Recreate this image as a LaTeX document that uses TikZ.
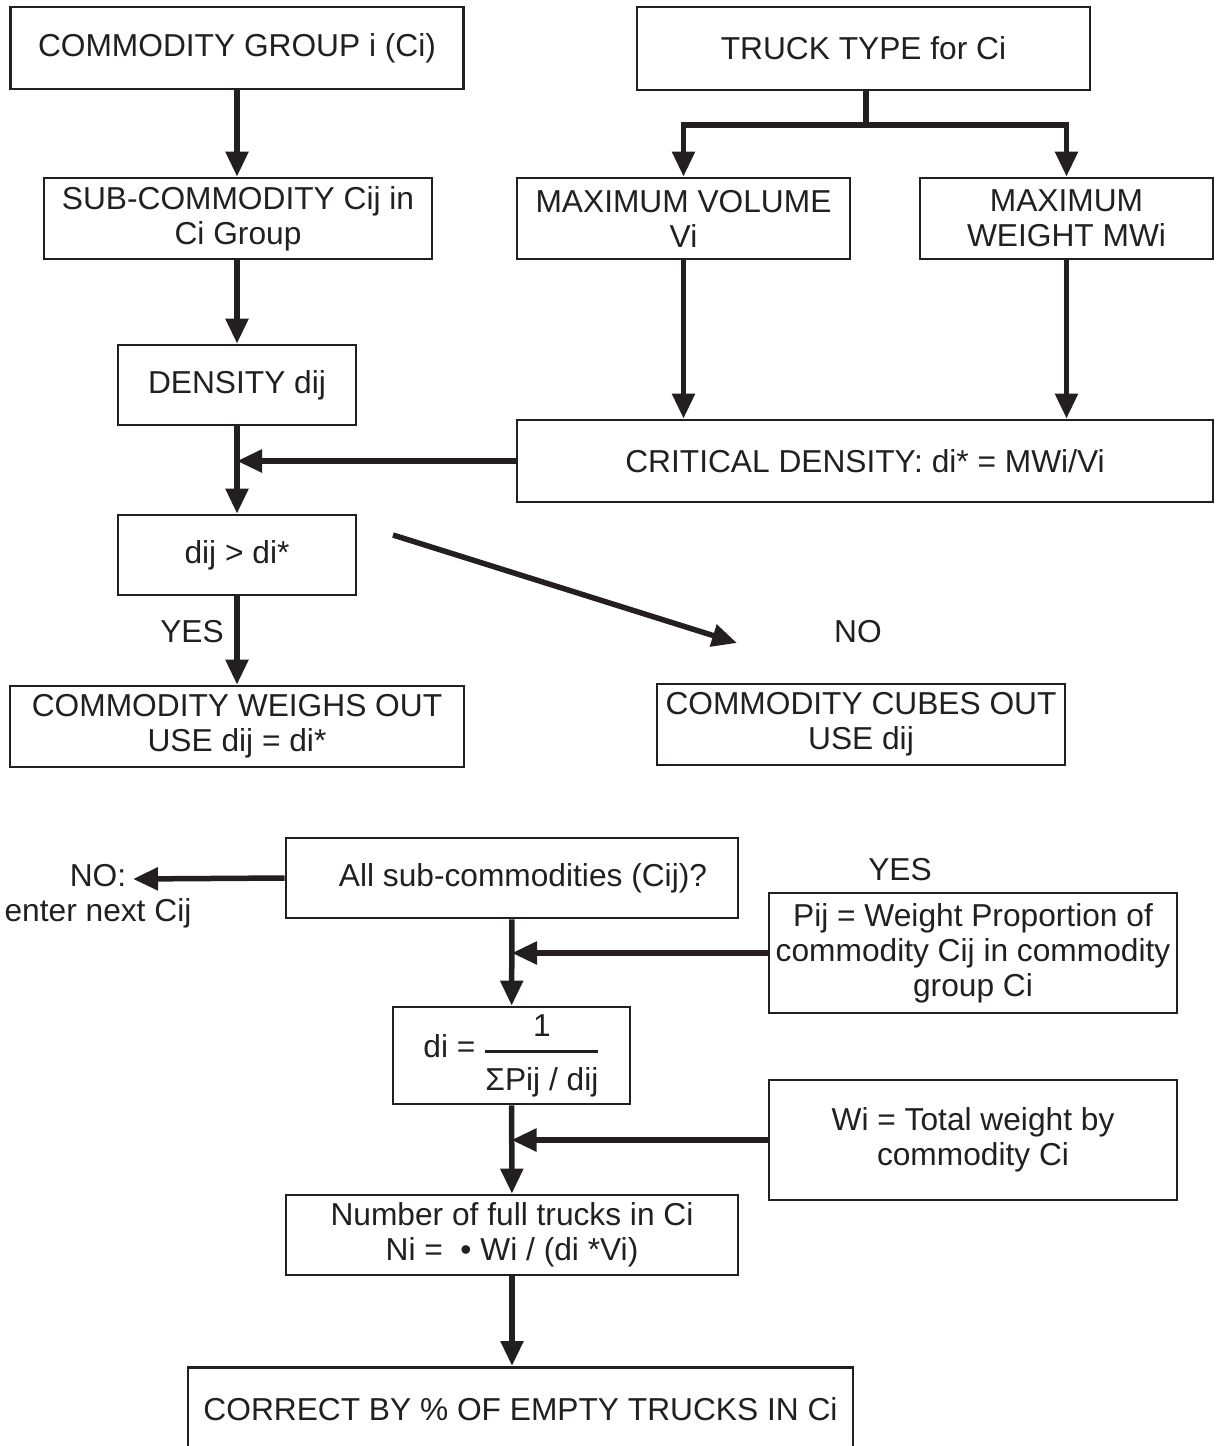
\documentclass[tikz,border=0pt]{standalone}
\usepackage{fontspec}
\setmainfont{Liberation Sans}
\usetikzlibrary{arrows.meta}
\definecolor{ink}{RGB}{35,31,32}
\tikzset{
  txt/.style={text=ink, align=center, inner sep=0pt, font=\fontsize{31.7}{35}\selectfont},
  box/.style={txt, draw=ink, line width=2.8pt},
  flow/.style={draw=ink, line width=5.5pt, -{Triangle[length=25pt,width=22pt]}},
  link/.style={draw=ink, line width=5.5pt}
}
\begin{document}
\begin{tikzpicture}[x=1pt, y=-1pt]
\useasboundingbox (0,0) rectangle (1216,1446);
% upper part
\node[box, minimum width=453, minimum height=82] (ci) at (237, 48) {COMMODITY GROUP i (Ci)};
\node[box, minimum width=453, minimum height=83] (truck) at (863.5, 48.5) {TRUCK TYPE for Ci};
\node[box, minimum width=388, minimum height=81] (sub) at (238, 218.5) {SUB-COMMODITY Cij in\\Ci Group};
\node[box, minimum width=333, minimum height=81] (maxvol) at (683.5, 218.5) {MAXIMUM VOLUME\\Vi};
\node[box, minimum width=293, minimum height=81] (maxwt) at (1066.5, 218.5) {MAXIMUM\\WEIGHT MWi};
\node[box, minimum width=238, minimum height=80] (dens) at (237, 385) {DENSITY dij};
\node[box, minimum width=696, minimum height=82] (crit) at (865, 461) {CRITICAL DENSITY: di* = MWi/Vi};
\node[box, minimum width=238, minimum height=80] (test) at (237, 555) {dij > di*};
\node[box, minimum width=454, minimum height=81] (weighs) at (237, 726.5) {COMMODITY WEIGHS OUT\\USE dij = di*};
\node[box, minimum width=408, minimum height=81] (cubes) at (861, 724.5) {COMMODITY CUBES OUT\\USE dij};
\node[txt] (yes1) at (192, 632) {YES};
\node[txt] (no1) at (858, 632) {NO};
\coordinate (split) at (866, 125);
\coordinate (nofrom) at (393, 535);
\coordinate (noto) at (737, 643);

\draw[flow] (ci.south) -- (ci.south |- sub.north);
\draw[link] (split |- truck.south) -- (split);
\draw[flow] (split) -| (maxvol.north);
\draw[flow] (split) -| (maxwt.north);
\draw[flow] (dens.north |- sub.south) -- (dens);
\draw[flow] (maxvol.south) -- (maxvol.south |- crit.north);
\draw[flow] (maxwt.south) -- (maxwt.south |- crit.north);
\draw[flow] (dens) -- (test);
\draw[flow] (crit.west) -- (dens.south |- crit.west);
\draw[flow] (nofrom) -- (noto);
\draw[flow] (test) -- (weighs);

% lower part
\node[box, minimum width=452, minimum height=80] (allsub) at (512, 878) {\hspace*{22pt}All sub-commodities (Cij)?};
\node[box, minimum width=408, minimum height=120] (pij) at (973, 953) {Pij = Weight Proportion of\\commodity Cij in commodity\\group Ci};
\node[box, minimum width=237, minimum height=97] (di) at (511.5, 1055.5) {di = $\displaystyle{\mbox{1}\rule[-7pt]{0pt}{0pt}\above 2.4pt\rule{0pt}{30pt}\mbox{ΣPij / dij}}$};
\node[box, minimum width=408, minimum height=120] (wi) at (973, 1140) {Wi = Total weight by\\commodity Ci};
\node[box, minimum width=452, minimum height=80] (ntrucks) at (512, 1235) {Number of full trucks in Ci\\Ni = \ • Wi / (di *Vi)};
\node[box, minimum width=665, minimum height=84, anchor=north] (correct) at (520.5, 1366) {CORRECT BY \% OF EMPTY TRUCKS IN Ci};
\node[txt] (no2) at (98, 896) {NO:\\enter next Cij};
\node[txt] (yes2) at (900, 870) {YES};
\coordinate (nexttip) at (133, 879);

\draw[flow] (allsub.west) -- (nexttip);
\draw[flow] (allsub) -- (di);
\draw[flow] (pij.west) -- (allsub.south |- pij.west);
\draw[flow] (di) -- (ntrucks);
\draw[flow] (wi.west) -- (di.south |- wi.west);
\draw[flow] (ntrucks.south) -- (ntrucks.south |- correct.north);
\end{tikzpicture}
\end{document}
